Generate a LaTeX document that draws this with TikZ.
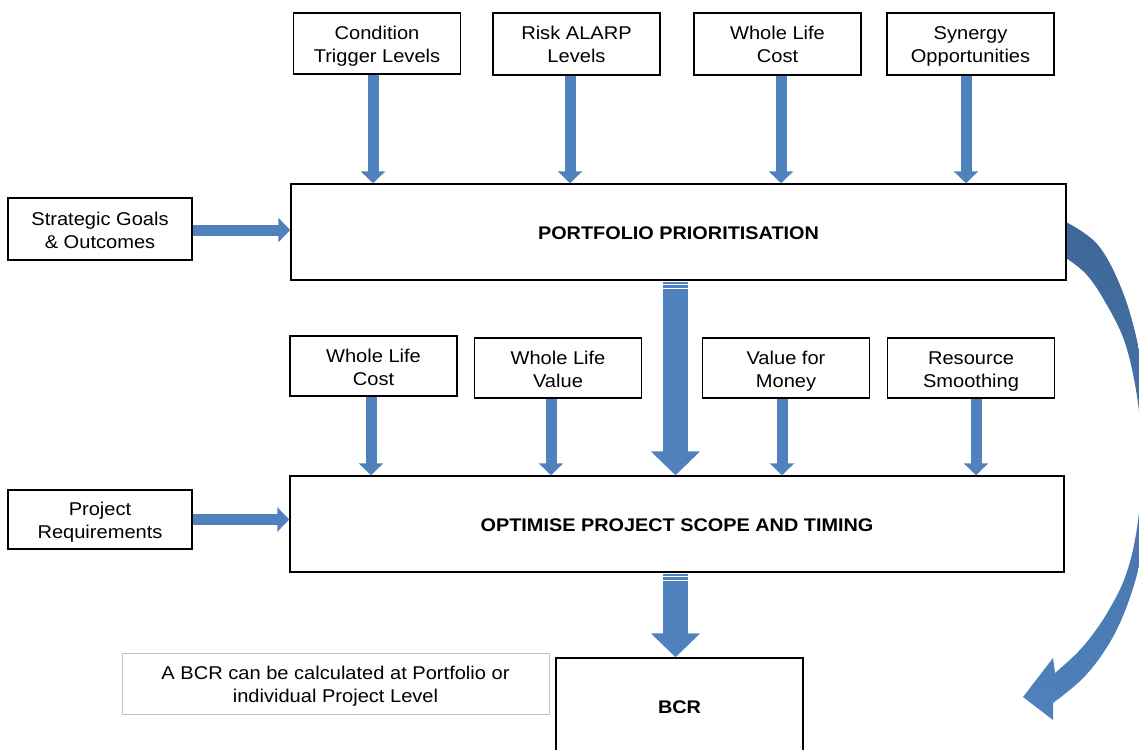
\documentclass[tikz,border=0pt]{standalone}
\usepackage{fontspec}
\setmainfont{Liberation Sans}[FakeStretch=1.085]
\usetikzlibrary{arrows.meta,calc}
\definecolor{arrowblue}{HTML}{4F81BD}
\definecolor{curvetop}{HTML}{3E6797}
\definecolor{notegray}{HTML}{BFBFBF}
\newcommand\lnstrut{\rule[-4pt]{0pt}{23pt}}
\tikzset{
  box/.style={draw=black, line width=1.5pt, fill=white, align=center, inner sep=0pt,
    font=\fontsize{18.5}{23}\selectfont},
  smallbox/.style={box, minimum width=167pt, minimum height=61pt},
  mainbox/.style={box, minimum width=775pt, minimum height=96pt, font=\fontsize{18.3}{23}\selectfont\bfseries},
  thinarrow/.style={draw=arrowblue, line width=11pt, -{Triangle[width=24pt,length=12pt]}},
  bigarrow/.style={draw=arrowblue, line width=25pt, -{Triangle[width=48pt,length=24pt]}},
}
\begin{document}
\begin{tikzpicture}[x=1pt,y=-1pt]
\useasboundingbox (0,0) rectangle (1139,749);
\clip (0,0) rectangle (1139,749);

% curved arrow (behind boxes)
\shade[top color=curvetop, bottom color=arrowblue, middle color=curvetop!50!arrowblue]
  (1066,222) -- plot[smooth, tension=0.6] coordinates {(1066,222) (1098,245) (1122,290) (1138,345) (1148,410) (1151,470) (1146,530) (1134,585) (1114,635) (1086,675) (1053,703)}
  -- (1053,720) -- (1023,697) -- (1053,658)
  -- plot[smooth, tension=0.6] coordinates {(1055,673) (1078,652) (1096,630) (1110,608) (1124,580) (1134,545) (1140,500) (1141,440) (1136,390) (1124,340) (1104,300) (1086,274) (1066,258)}
  -- cycle;

% top row
\node[smallbox, minimum height=61pt] (ctl) at (377,43.5) {\lnstrut Condition\\\lnstrut Trigger Levels};
\node[smallbox, minimum height=62pt] (risk) at (576.5,44) {\lnstrut Risk ALARP\\\lnstrut Levels};
\node[smallbox, minimum height=62pt] (wlc1) at (777.5,44) {\lnstrut Whole Life\\\lnstrut Cost};
\node[smallbox, minimum height=62pt] (syn) at (970.5,44) {\lnstrut Synergy\\\lnstrut Opportunities};

% portfolio
\node[mainbox] (port) at (678.5,232) {\lnstrut PORTFOLIO PRIORITISATION};
\node[box, minimum width=184pt, minimum height=62pt] (sgo) at (100,229) {\lnstrut Strategic Goals\\\lnstrut \& Outcomes};

% middle row
\node[smallbox, minimum height=60pt] (wlc2) at (373.5,366) {\lnstrut Whole Life\\\lnstrut Cost};
\node[smallbox, minimum height=60pt] (wlv) at (558,368) {\lnstrut Whole Life\\\lnstrut Value};
\node[smallbox, minimum height=60pt] (vfm) at (786,368) {\lnstrut Value for\\\lnstrut Money};
\node[smallbox, minimum height=60pt] (res) at (971,368) {\lnstrut Resource\\\lnstrut Smoothing};

% optimise
\node[mainbox, minimum width=774pt] (opt) at (677,524) {\lnstrut OPTIMISE PROJECT SCOPE AND TIMING};
\node[box, minimum width=184pt, minimum height=59pt] (preq) at (100,519.5) {\lnstrut Project\\\lnstrut Requirements};

% BCR and note
\node[box, minimum width=247pt, minimum height=96pt, font=\fontsize{18.3}{23}\selectfont\bfseries] (bcr) at (679.5,706) {\lnstrut BCR};
\node[draw=notegray, line width=0.8pt, fill=white, align=center, inner sep=0pt,
  minimum width=427pt, minimum height=61pt, font=\fontsize{18.5}{23}\selectfont] (note) at (335.5,683.5)
  {\lnstrut A BCR can be calculated at Portfolio or\\\lnstrut individual Project Level};

% thin arrows top row
\draw[thinarrow] ($(ctl.south)+(-4,0)$) -- ($(ctl.south |- port.north)+(-4,0)$);
\draw[thinarrow] ($(risk.south)+(-6.5,0)$) -- ($(risk.south |- port.north)+(-6.5,0)$);
\draw[thinarrow] ($(wlc1.south)+(3.5,0)$) -- ($(wlc1.south |- port.north)+(3.5,0)$);
\draw[thinarrow] ($(syn.south)+(-4.5,0)$) -- ($(syn.south |- port.north)+(-4.5,0)$);

% thin arrows middle row
\draw[thinarrow] ($(wlc2.south)+(-2.5,0)$) -- ($(wlc2.south |- opt.north)+(-2.5,0)$);
\draw[thinarrow] ($(wlv.south)+(-7,0)$) -- ($(wlv.south |- opt.north)+(-7,0)$);
\draw[thinarrow] ($(vfm.south)+(-4,0)$) -- ($(vfm.south |- opt.north)+(-4,0)$);
\draw[thinarrow] ($(res.south)+(5,0)$) -- ($(res.south |- opt.north)+(5,0)$);

% horizontal arrows
\draw[thinarrow] ($(sgo.east)+(0,1)$) -- ($(sgo.east -| port.west)+(0,1)$);
\draw[thinarrow] (preq.east) -- (preq.east -| opt.west);

% big striped arrows
\fill[arrowblue] ($(port.south)+(-15.5,1)$) rectangle ($(port.south)+(9.5,3.3)$);
\fill[arrowblue] ($(port.south)+(-15.5,4.3)$) rectangle ($(port.south)+(9.5,7)$);
\draw[bigarrow] ($(port.south)+(-3,8)$) -- ($(port.south |- opt.north)+(-3,0)$);

\fill[arrowblue] ($(opt.south)+(-14,1)$) rectangle ($(opt.south)+(11,3.3)$);
\fill[arrowblue] ($(opt.south)+(-14,4.3)$) rectangle ($(opt.south)+(11,7)$);
\draw[bigarrow] ($(opt.south)+(-1.5,8)$) -- ($(opt.south |- bcr.north)+(-1.5,0)$);
\end{tikzpicture}
\end{document}
